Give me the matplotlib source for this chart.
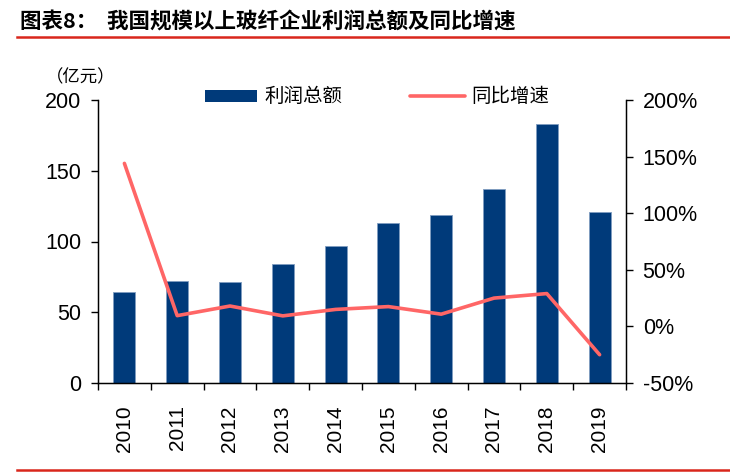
import matplotlib
matplotlib.use('Agg')
import matplotlib.pyplot as plt
import numpy as np
from matplotlib.lines import Line2D
from matplotlib.patches import Rectangle

plt.rcParams['font.family'] = ['Liberation Sans', 'Noto Sans CJK SC']

years = ['2010', '2011', '2012', '2013', '2014', '2015', '2016', '2017', '2018', '2019']
profit = [64.5, 72.3, 71.6, 84.0, 96.8, 112.9, 118.7, 136.9, 183.0, 120.8]   # 亿元
growth = [144, 9.5, 18, 9.3, 15, 17.5, 10.8, 25, 29, -25]                      # %

bar_color = '#003A7A'
line_color = '#FF6666'
cjk = ['Noto Sans CJK SC', 'DejaVu Sans']

W, H = 730, 472
fig = plt.figure(figsize=(W/100, H/100), dpi=100)

# title + red rules
fig.text(20/W, 1-22/H, '图表8：  我国规模以上玻纤企业利润总额及同比增速',
         fontsize=15.5, fontweight='bold', va='center', ha='left', family=cjk)
fig.add_artist(Line2D([17/W, 1.0], [1-37/H, 1-37/H], color='#D9261C', lw=1.8))
fig.add_artist(Line2D([17/W, 1.0], [1-470/H, 1-470/H], color='#D9261C', lw=1.8))

ax1 = fig.add_axes([98/W, 1-383/H, 528/W, 283/H])
x = np.arange(len(years))
ax1.bar(x, profit, width=0.42, color=bar_color, edgecolor='#7F9CC0', linewidth=0.6, zorder=2)
ax1.set_xlim(-0.5, len(years)-0.5)
ax1.set_ylim(0, 200)
ax1.set_yticks([0, 50, 100, 150, 200])
ax1.tick_params(axis='y', labelsize=15.5, direction='out', length=5, width=1, pad=7)
ax1.set_xticks(x)
ax1.set_xticklabels(years, rotation=90, fontsize=15)
ax1.tick_params(axis='x', which='major', length=0, pad=16)
ax1.set_xticks(np.arange(-0.5, len(years)), minor=True)
ax1.tick_params(axis='x', which='minor', length=5, width=1, direction='out')
ax1.spines['top'].set_visible(False)
for s in ['left', 'right', 'bottom']:
    ax1.spines[s].set_linewidth(1)

ax2 = ax1.twinx()
ax2.plot(x, growth, color=line_color, lw=2.6, solid_capstyle='round', zorder=3)
ax2.set_ylim(-50, 200)
ax2.set_yticks([-50, 0, 50, 100, 150, 200])
ax2.set_yticklabels(['-50%', '0%', '50%', '100%', '150%', '200%'])
ax2.tick_params(axis='y', labelsize=15.5, direction='out', length=5, width=1, pad=7)
ax2.spines['top'].set_visible(False)

fig.text(46/W, 1-77/H, '（亿元）', fontsize=12.5, va='center', ha='left', family=cjk)

# legend drawn by hand
fig.add_artist(Rectangle((205/W, 1-102/H), 52/W, 12/H, facecolor=bar_color,
                         edgecolor='none', transform=fig.transFigure))
fig.text(264/W, 1-96/H, '利润总额', fontsize=14, va='center', ha='left', family=cjk)
fig.add_artist(Line2D([410/W, 465/W], [1-96/H, 1-96/H], color=line_color, lw=2.6,
                      solid_capstyle='round'))
fig.text(471/W, 1-96/H, '同比增速', fontsize=14, va='center', ha='left', family=cjk)

fig.savefig('out.png', dpi=100)
